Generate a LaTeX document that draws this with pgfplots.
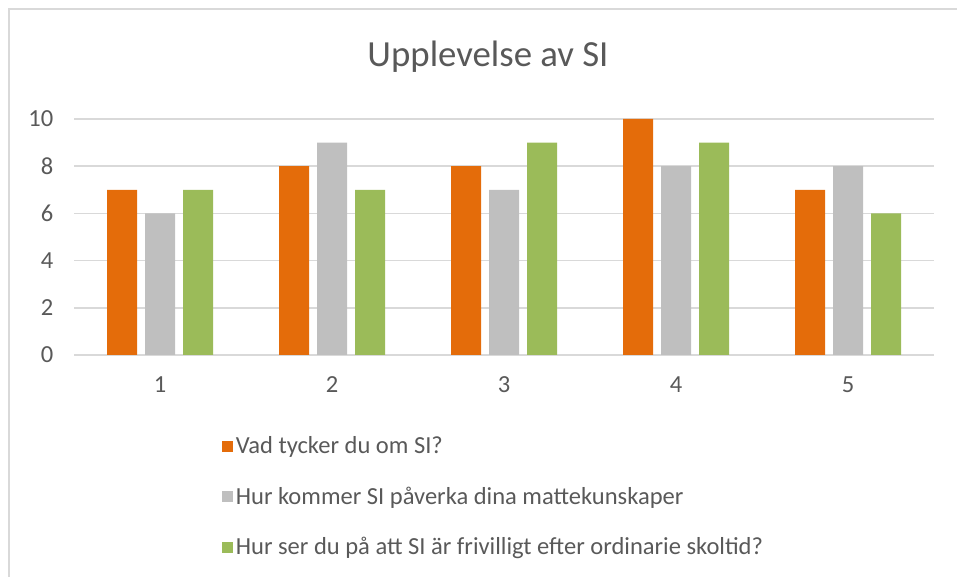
\documentclass[border=0pt]{standalone}
\usepackage{pgfplots}
\pgfplotsset{compat=1.18}
\usepackage{fontspec}
\setmainfont{Carlito}
\definecolor{cOrange}{HTML}{E46C0A}
\definecolor{cGray}{HTML}{BFBFBF}
\definecolor{cGreen}{HTML}{9BBB59}
\definecolor{cText}{HTML}{595959}
\definecolor{cGrid}{HTML}{D9D9D9}
\begin{document}
\begin{tikzpicture}
\path[use as bounding box] (0pt,0pt) rectangle (717.75pt,432.75pt);
\draw[cGrid, line width=1.5pt] (6.4pt,0pt) -- (6.4pt,426pt) -- (717.75pt,426pt);
\node[text=cText, font=\fontsize{27.6}{32}\selectfont] at (366pt,390pt) {Upplevelse av SI};
\begin{axis}[
  at={(55.5pt,166.5pt)}, anchor=south west,
  scale only axis, width=645pt, height=177pt,
  xmin=0.5, xmax=5.5, ymin=0, ymax=10,
  xtick={1,2,3,4,5}, ytick={0,2,4,6,8,10},
  ymajorgrids, grid style={cGrid, line width=1.1pt},
  axis line style={draw=none},
  major tick length=0pt,
  tick label style={text=cText, font=\fontsize{18.4}{21}\selectfont},
  /pgf/number format/assume math mode=true,
  yticklabel style={xshift=-12pt},
  xticklabel style={yshift=-13pt},
  ybar, bar width=22.5pt,
  legend cell align=left,
  legend style={at={(0.172,-0.333)}, anchor=north west, draw=none, fill=none,
    text=cText, font=\fontsize{18.4}{21}\selectfont, row sep=19.5pt, inner sep=0pt,
    /tikz/every even column/.append style={column sep=0pt}},
  legend image code/.code={\fill[#1] (0pt,-4.1pt) rectangle (8.25pt,4.1pt);},
]
\addplot[fill=cOrange, draw=none, bar shift=-28.5pt] coordinates {(1,7) (2,8) (3,8) (4,10) (5,7)};
\addplot[fill=cGray, draw=none, bar shift=0pt] coordinates {(1,6) (2,9) (3,7) (4,8) (5,8)};
\addplot[fill=cGreen, draw=none, bar shift=28.5pt] coordinates {(1,7) (2,7) (3,9) (4,9) (5,6)};
\legend{Vad tycker du om SI?, Hur kommer SI påverka dina mattekunskaper, Hur ser du på att SI är frivilligt efter ordinarie skoltid?}
\end{axis}
\end{tikzpicture}
\end{document}
